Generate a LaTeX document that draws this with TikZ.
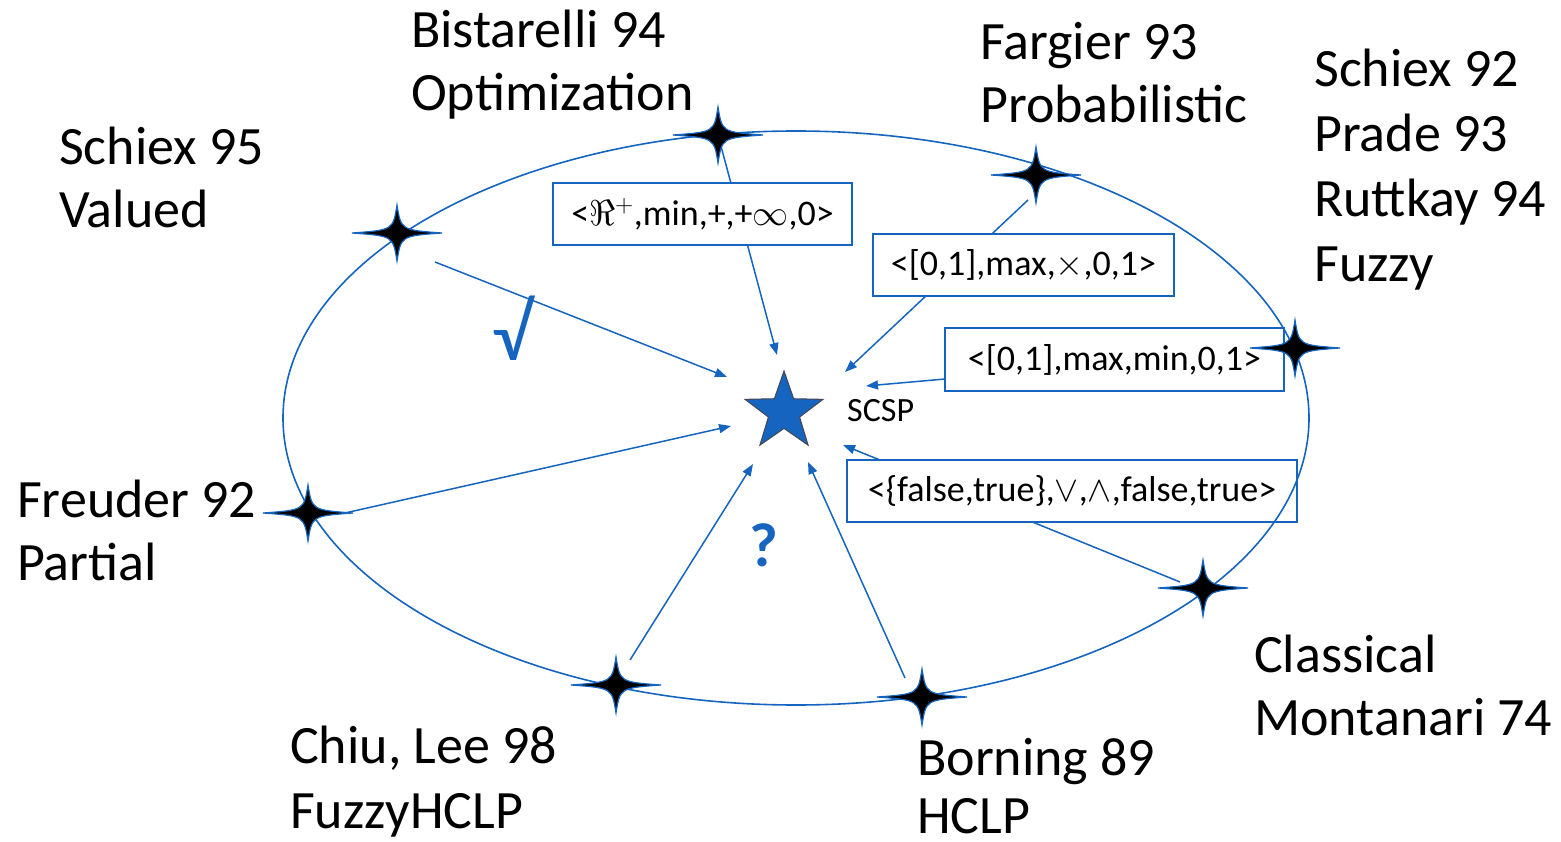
\RequirePackage{fix-cm}
\documentclass[tikz,border=0pt]{standalone}
\usepackage{fontspec}
\setmainfont{Carlito}
\usetikzlibrary{arrows.meta,shapes.geometric}
\definecolor{sblue}{RGB}{21,101,192}
\definecolor{sgray}{RGB}{70,70,80}
\tikzset{
  big/.style={anchor=base west,inner sep=0pt,font=\fontsize{54}{63}\selectfont},
  boxlbl/.style={draw=sblue,line width=1.6pt,fill=white,inner sep=0pt,font=\fontsize{36}{42}\selectfont},
  conn/.style={draw=sblue,line width=1.5pt,-{Triangle[length=12pt,width=9pt]}},
  fourstar/.pic={\filldraw[fill=black,draw=sblue,line width=1.2pt,line join=miter]
     (45,0) .. controls (4,3) .. (0,28) .. controls (-4,3) .. (-45,0)
     .. controls (-4,-3) .. (0,-28) .. controls (4,-3) .. cycle;}
}
\begin{document}
\begin{tikzpicture}[x=1pt,y=-1pt]
\useasboundingbox (0,0) rectangle (1561,842);
% star positions
\coordinate (sBis) at (718,135);
\coordinate (sFar) at (1036,175);
\coordinate (sSch92) at (1295,348);
\coordinate (sCla) at (1203,588);
\coordinate (sBor) at (922,697);
\coordinate (sChi) at (616,685);
\coordinate (sFre) at (308,513);
\coordinate (sSch95) at (397,233);
% arrow starts
\coordinate (aFar) at (1028,200);
\coordinate (aCla) at (1180,582);
\coordinate (aBor) at (905,678);
\coordinate (aChi) at (630,660);
\coordinate (aFre) at (345,513);
\coordinate (aSch95) at (435,262);
% arrow tips
\coordinate (tBis) at (777,355);
\coordinate (tFar) at (845,372);
\coordinate (tSch92) at (866,386);
\coordinate (tCla) at (843,445);
\coordinate (tBor) at (808,462);
\coordinate (tChi) at (753,464);
\coordinate (tFre) at (731,426);
\coordinate (tSch95) at (727,377);
% connectors
\draw[conn] (sBis) -- (tBis);
\draw[conn] (aFar) -- (tFar);
\draw[conn] (sSch92) -- (tSch92);
\draw[conn] (aCla) -- (tCla);
\draw[conn] (aBor) -- (tBor);
\draw[conn] (aChi) -- (tChi);
\draw[conn] (aFre) -- (tFre);
\draw[conn] (aSch95) -- (tSch95);
% boxes
\node[boxlbl,minimum width=299pt,minimum height=62pt] (b1) at (702.5,214) {<$\Re^{+}$,min,+,+$\infty$,0>};
\node[boxlbl,minimum width=301pt,minimum height=62pt] (b2) at (1023.5,265) {<[0,1],max,$\times$,0,1>};
\node[boxlbl,minimum width=339pt,minimum height=63pt] (b3) at (1114.5,359.5) {<[0,1],max,min,0,1>};
\node[boxlbl,minimum width=450pt,minimum height=62pt] (b4) at (1072,491) {<\{false,true\},$\vee$,$\wedge$,false,true>};
% ellipse
\draw[sblue,line width=1.6pt] (796,418) ellipse [x radius=513,y radius=287];
% center star
\node[star,star points=5,star point ratio=2.5,minimum size=82pt,inner sep=0pt,
      fill=sblue,draw=sgray,line width=1pt] (scsp) at (784,412) {};
\node[anchor=west,inner sep=0pt,font=\fontsize{34}{40}\selectfont] (scsplbl) at (847,411) {SCSP};
% four-point stars
\foreach \s in {sBis,sFar,sSch92,sCla,sBor,sChi,sFre,sSch95} \pic at (\s) {fourstar};
% marks
\node[inner sep=0pt,text=sblue,font=\bfseries\fontsize{62}{70}\selectfont] (qm) at (764,545) {?};
\node[inner sep=0pt,text=sblue,font=\fontsize{80}{90}\selectfont] (ok) at (512,328) {√};
% labels
\node[big] (l1a) at (411,48) {Bistarelli 94};
\node[big] (l1b) at (411,111) {Optimization};
\node[big] (l2a) at (980,60) {Fargier 93};
\node[big] (l2b) at (980,123) {Probabilistic};
\node[big] (l3a) at (1314,87) {Schiex 92};
\node[big] (l3b) at (1314,152) {Prade 93};
\node[big] (l3c) at (1314,217) {Ruttkay 94};
\node[big] (l3d) at (1314,282) {Fuzzy};
\node[big] (l4a) at (59,165) {Schiex 95};
\node[big] (l4b) at (59,228) {Valued};
\node[big] (l5a) at (17,517) {Freuder 92};
\node[big] (l5b) at (17,580) {Partial};
\node[big] (l6a) at (290,763) {Chiu, Lee 98};
\node[big] (l6b) at (290,828) {FuzzyHCLP};
\node[big] (l7a) at (917,775) {Borning 89};
\node[big] (l7b) at (917,833) {HCLP};
\node[big] (l8a) at (1254,672) {Classical};
\node[big] (l8b) at (1254,735) {Montanari 74};
\end{tikzpicture}
\end{document}
